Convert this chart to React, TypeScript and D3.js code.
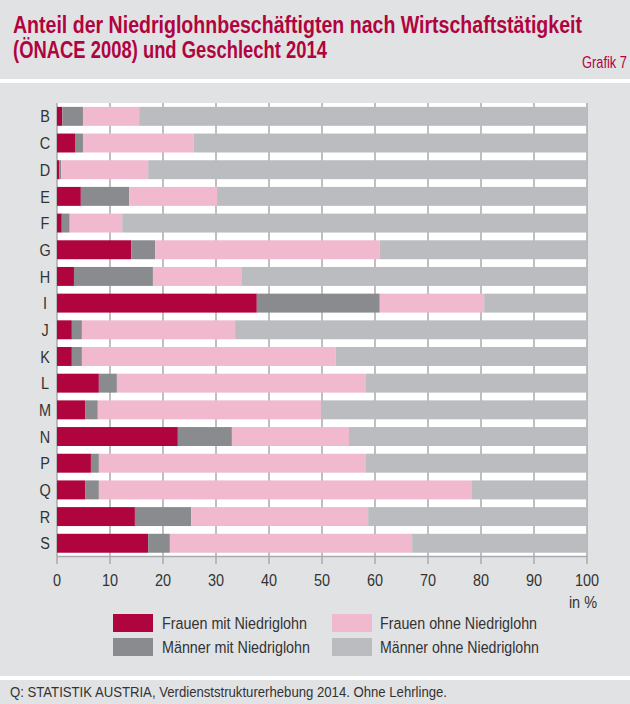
import React from "react";
import * as d3 from "d3";

const categories = ["B", "C", "D", "E", "F", "G", "H", "I", "J", "K", "L", "M", "N", "P", "Q", "R", "S"];
const frauenMit = [1.0, 3.4, 0.4, 4.5, 0.9, 14.0, 3.2, 37.7, 2.8, 2.8, 7.9, 5.3, 22.8, 6.4, 5.3, 14.7, 17.2];
const maennerMit = [3.9, 1.5, 0.4, 9.1, 1.5, 4.5, 14.9, 23.2, 1.9, 1.9, 3.4, 2.4, 10.2, 1.5, 2.6, 10.6, 4.1];
const frauenOhne = [10.6, 20.9, 16.4, 16.6, 9.9, 42.4, 16.8, 19.7, 28.9, 47.9, 47.0, 42.1, 22.1, 50.4, 70.4, 33.4, 45.7];
const maennerOhne = [84.5, 74.2, 82.8, 69.8, 87.7, 39.1, 65.1, 19.4, 66.4, 47.4, 41.7, 50.2, 44.9, 41.7, 21.7, 41.3, 33.0];
const seriesNames = ["Frauen mit Niedriglohn", "Männer mit Niedriglohn", "Frauen ohne Niedriglohn", "Männer ohne Niedriglohn"];
const ticks = [0, 10, 20, 30, 40, 50, 60, 70, 80, 90, 100];
const titleLines = ["Anteil der Niedriglohnbeschäftigten nach Wirtschaftstätigkeit", "(ÖNACE 2008) und Geschlecht 2014"];
const grafikLabel = "Grafik 7";
const unitLabel = "in %";
const sourceText = "Q: STATISTIK AUSTRIA, Verdienststrukturerhebung 2014. Ohne Lehrlinge.";

const colors = ["#b0043f", "#8a8b8f", "#f0b9ce", "#bbbcc0"];
const FONT = "'Liberation Sans Narrow', 'Arial Narrow', 'Liberation Sans', Arial, sans-serif";

function NText(props: any) {
  const { x, y, w, sx = 0.85, anchor = "start", size = 16, weight = "normal", fill = "#333", dy, children } = props;
  return (
    <text transform={`translate(${x},${y}) scale(${sx},1)`} textAnchor={anchor} fontFamily={FONT}
      fontSize={size} fontWeight={weight} fill={fill} dy={dy}
      textLength={w ? w / sx : undefined} lengthAdjust={w ? "spacingAndGlyphs" : undefined}>{children}</text>
  );
}

export default function App() {
  const W = 630, H = 704;
  const x0 = 57, x1 = 587, yTop = 103, yBot = 556.6;
  const x = d3.scaleLinear().domain([0, 100]).range([x0, x1]);
  const y = d3.scaleBand<string>().domain(categories).range([yTop, yBot]).paddingInner(0.29).paddingOuter(0.145);

  const table = categories.map((c, i) => ({
    cat: c,
    s0: frauenMit[i],
    s1: maennerMit[i],
    s2: frauenOhne[i],
    s3: maennerOhne[i],
  }));
  const stack = d3.stack<any>().keys(["s0", "s1", "s2", "s3"]);
  const layers = stack(table);

  const legendWidths = [145, 148, 157, 159];
  const legendItems = seriesNames.map((n, i) => ({
    name: n,
    color: colors[i],
    w: legendWidths[i],
    sx: i < 2 ? 113 : 332,
    tx: i < 2 ? 162 : 380,
    y: i % 2 === 0 ? 614 : 638,
  }));

  return (
    <svg width={W} height={H} style={{ position: "absolute", left: 0, top: 0, display: "block" }}>
      <rect x={0} y={0} width={W} height={H} fill="#ffffff" />
      <rect x={0} y={0} width={W} height={79} fill="#e1e2e4" />
      <rect x={0} y={83} width={W} height={593} fill="#e1e2e4" />
      <rect x={0} y={680} width={W} height={24} fill="#e1e2e4" />

      <NText x={13} y={33} w={569} sx={0.72} size={24} weight="bold" fill="#b0043f">{titleLines[0]}</NText>
      <NText x={13} y={58} w={314} sx={0.72} size={24} weight="bold" fill="#b0043f">{titleLines[1]}</NText>
      <NText x={627} y={68} w={45} sx={0.75} size={17} anchor="end" fill="#b0043f">{grafikLabel}</NText>

      <rect x={x0} y={yTop} width={x1 - x0} height={yBot - yTop} fill="#ffffff" />
      {ticks.map((t) => (
        <line key={"g" + t} x1={x(t)} x2={x(t)} y1={yTop} y2={564} stroke="#a9aaad" strokeWidth={1.5} />
      ))}
      <line x1={x0} x2={x1} y1={yBot} y2={yBot} stroke="#a9aaad" strokeWidth={1.5} />

      {layers.map((layer, li) => (
        <g key={"l" + li} fill={colors[li]}>
          {layer.map((d: any) => (
            <rect key={d.data.cat} x={x(d[0])} y={y(d.data.cat)} width={Math.max(0, x(d[1]) - x(d[0]))} height={y.bandwidth()} />
          ))}
        </g>
      ))}

      {categories.map((c) => (
        <NText key={"c" + c} x={45} y={(y(c) as number) + y.bandwidth() / 2} dy="0.36em" anchor="middle" size={17} sx={0.85}>{c}</NText>
      ))}

      {ticks.map((t) => (
        <NText key={"t" + t} x={x(t)} y={580} dy="0.36em" anchor="middle" size={17} sx={0.85}>{t}</NText>
      ))}
      <NText x={597} y={602} dy="0.36em" anchor="end" size={17} sx={0.85}>{unitLabel}</NText>

      {legendItems.map((it) => (
        <g key={it.name}>
          <rect x={it.sx} y={it.y} width={40} height={18} fill={it.color} />
          <NText x={it.tx} y={it.y + 9} dy="0.36em" size={17} w={it.w} sx={0.85}>{it.name}</NText>
        </g>
      ))}

      <NText x={10} y={692} dy="0.36em" size={15} w={437} sx={0.85}>{sourceText}</NText>
    </svg>
  );
}
